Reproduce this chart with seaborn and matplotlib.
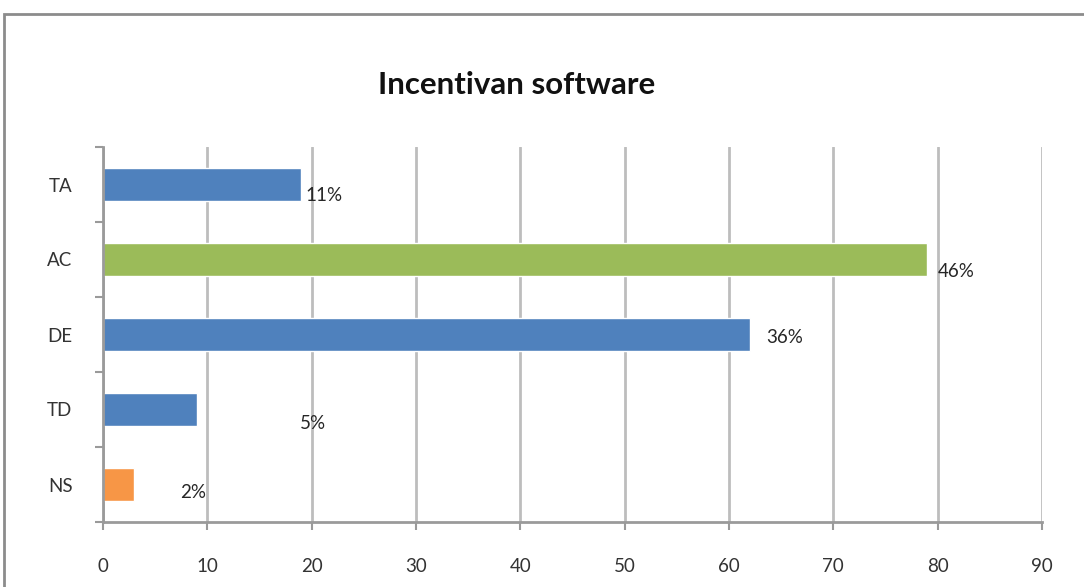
import matplotlib
matplotlib.use("Agg")
import matplotlib.pyplot as plt
import seaborn as sns
import pandas as pd
from matplotlib.patches import Rectangle

categories = ["TA", "AC", "DE", "TD", "NS"]
values = [19, 79, 62, 9, 3]
pct_labels = ["11%", "46%", "36%", "5%", "2%"]
bar_colors = ["#4F81BD", "#9BBB59", "#4F81BD", "#4F81BD", "#F79646"]
x_ticks = [0, 10, 20, 30, 40, 50, 60, 70, 80, 90]

# label offsets (pixels from bar end) -- styling only
label_offsets = [(4, -11), (11, -12), (16, -3), (103, -14), (46, -8)]

sns.set_theme(style="white")
plt.rcParams['font.family'] = ['Lato', 'DejaVu Sans']

df = pd.DataFrame({"cat": categories, "val": values})

fig = plt.figure(figsize=(10.84, 5.87), dpi=100)
ax = fig.add_axes([103/1084, 1-522/587, (1042-103)/1084, (522-147)/587])

sns.barplot(data=df, x="val", y="cat", hue="cat", order=categories,
            palette=bar_colors, orient="h", width=0.43, legend=False,
            saturation=1, ax=ax)

ax.set_xlim(0, 90)
ax.set_ylim(4.5, -0.5)
ax.set_xticks(x_ticks)
ax.set_xticklabels([str(t) for t in x_ticks], fontsize=13.5, color="#333333")
ax.xaxis.grid(True, color="#BDBDBD", linewidth=2)
ax.set_axisbelow(True)

# y ticks: marks at boundaries, labels at centers
ax.set_yticks([-0.5 + i for i in range(len(categories) + 1)])
ax.set_yticklabels([])
ax.set_yticks(range(len(categories)), minor=True)
ax.set_yticklabels(categories, minor=True, fontsize=13.5, color="#333333")
ax.tick_params(axis="y", which="minor", length=0, pad=22)
ax.tick_params(axis="y", which="major", length=6, width=1.5, color="#9A9A9A", direction="out", left=True)
ax.tick_params(axis="x", which="major", length=6, width=1.5, color="#9A9A9A", direction="out", bottom=True, pad=20)

for s in ["top", "right"]:
    ax.spines[s].set_visible(False)
for s in ["left", "bottom"]:
    ax.spines[s].set_color("#9A9A9A")
    ax.spines[s].set_linewidth(2)
ax.set_xlabel("")
ax.set_ylabel("")

for i, (v, lab) in enumerate(zip(values, pct_labels)):
    dx, dy = label_offsets[i]
    ax.annotate(lab, xy=(v, i), xytext=(dx * 0.72, dy * 0.72), textcoords="offset points",
                ha="left", va="center", fontsize=13.5, color="#262626")

fig.text(517/1084, 1-85/587, "Incentivan software", ha="center", va="center",
         fontsize=22.5, fontweight="bold", color="#111111")

border = Rectangle((4/1084, -0.1), 1.2, 1-14/587 + 0.1, transform=fig.transFigure,
                   fill=False, edgecolor="#8C8C8C", linewidth=2, clip_on=False)
fig.patches.append(border)

fig.savefig("out.png", dpi=100)
